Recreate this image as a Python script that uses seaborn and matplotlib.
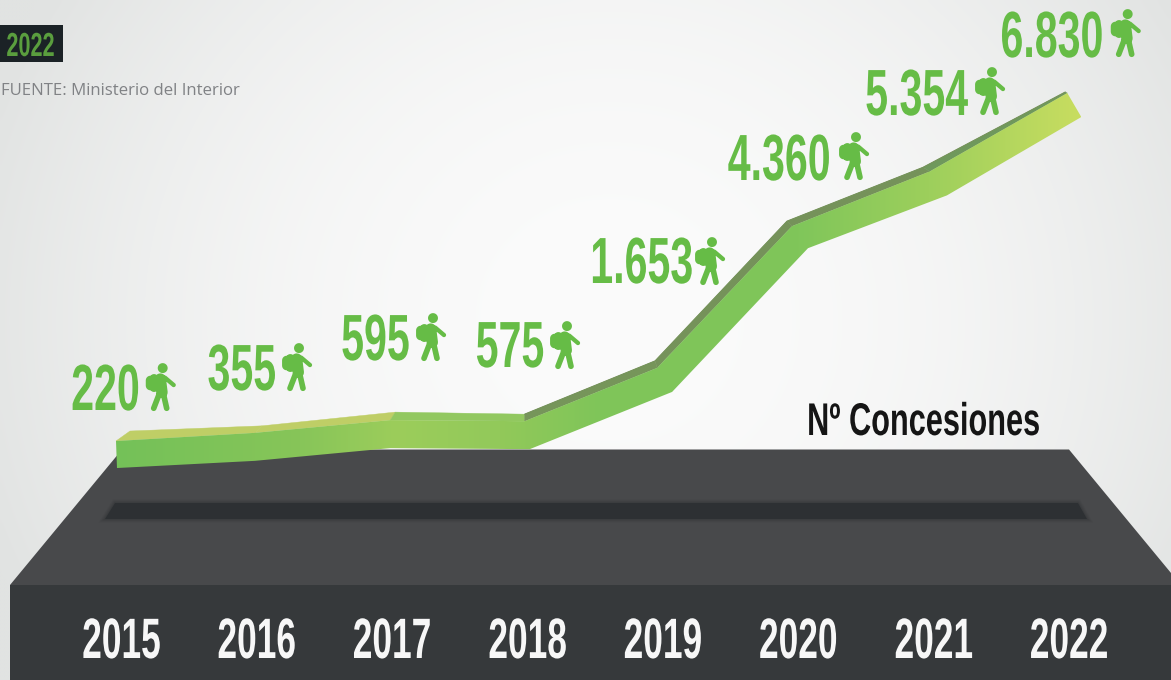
import numpy as np
import matplotlib
matplotlib.use("Agg")
import matplotlib.pyplot as plt
import seaborn as sns
from matplotlib.path import Path
from matplotlib.patheffects import AbstractPathEffect
from matplotlib.transforms import Affine2D
from matplotlib.colors import to_rgb

# ---------- data ----------
YEARS = [2015, 2016, 2017, 2018, 2019, 2020, 2021, 2022]
VALUES = [220, 355, 595, 575, 1653, 4360, 5354, 6830]
SERIES_NAME = "Nº Concesiones"
BADGE = "2022"
SOURCE = "FUENTE: Ministerio del Interior"

# ---------- ribbon styling (pixel offsets of the 3-D ribbon relative to each point) ----------
THICK_FRONT = [27, 28, 28, 28, 24, 22, 24, 24]
THICK_BACK = [10, 7, 8, 7, 7, 5, 4, 1]
DX_BOTTOM = [-4.5, -2, -2, 2, 9, 9.5, 13, 12]
DX_FRONT = [-5.5, -2, -2, -3, -6, -6.5, -4, -2]
DX_BACK = [8.5, 5, 3, -3, -8, -11.5, -11, -4]
BACK_COLORS = ["#bfce66", "#bfce66", "#92c860", "#76955a", "#75925a", "#75925a", "#6f985c"]
GRAD_X = [116, 300, 395, 500, 600, 800, 930, 1081]
GRAD_C = ["#74c158", "#87c559", "#9ccd5b", "#92c95a", "#7fc559", "#80c65a", "#9dcf5c", "#c8dd60"]

# label layout in pixels
LABEL_CX = [105.5, 242, 375.5, 510, 641.5, 779.5, 916.5, 1052]
LABEL_BASE = [410, 390, 360, 367, 283, 180, 115, 57]
ICON_CX = [160.7, 297, 431, 565, 710, 854, 990, 1125.7]
ICON_CY = [387, 367, 337, 345, 261, 156, 91, 33]

GREEN = "#66bc46"
W, H = 1171, 680
PX0, PXS = 121.5, 135.4      # year -> pixel
PY0, PYS = 479.7, 0.0531     # value -> pixel


def X(px):
    return YEARS[0] + (np.asarray(px, float) - PX0) / PXS


def Y(py):
    return (PY0 - np.asarray(py, float)) / PYS


class Squeeze(AbstractPathEffect):
    """Narrow real text horizontally about its centre or left edge (condensed look)."""

    def __init__(self, sx, anchor="center"):
        super().__init__()
        self.sx = sx
        self.anchor = anchor

    def draw_path(self, renderer, gc, tpath, affine, rgbFace=None):
        e = tpath.get_extents()
        xc = (e.x0 + e.x1) / 2 if self.anchor == "center" else e.x0
        t = Affine2D().translate(-xc, 0).scale(self.sx, 1).translate(xc, 0)
        renderer.draw_path(gc, tpath, t + affine, rgbFace)


def poly_circle(cx, cy, r, n=28):
    a = np.linspace(0, 2 * np.pi, n, endpoint=False)
    v = np.c_[cx + r * np.cos(a), cy + r * np.sin(a)]
    return Path(np.r_[v, v[:1]], closed=True)


def capsule(x0, y0, x1, y1, r, n=12):
    a0 = np.arctan2(y1 - y0, x1 - x0)
    arc1 = a0 + np.linspace(-np.pi / 2, np.pi / 2, n)
    arc0 = a0 + np.linspace(np.pi / 2, 3 * np.pi / 2, n)
    v = np.r_[np.c_[x1 + r * np.cos(arc1), y1 + r * np.sin(arc1)],
              np.c_[x0 + r * np.cos(arc0), y0 + r * np.sin(arc0)]]
    return Path(np.r_[v, v[:1]], closed=True)


HIKER = Path.make_compound_path(
    poly_circle(6, 57, 15),
    capsule(-1, 24, 4, -16, 17),
    capsule(-31, 20, -31, 4, 14),
    capsule(-20, 26, -20, -2, 13),
    capsule(13, 28, 39, 6, 6.5),
    capsule(-4, -20, -21, -64, 8.5),
    capsule(8, -20, 18, -64, 8.5),
)

sns.set_theme(style="white")
plt.rcParams["font.family"] = ["Liberation Sans", "DejaVu Sans"]

fig = plt.figure(figsize=(W / 100, H / 100), dpi=100)
ax = fig.add_axes([0, 0, 1, 1])
xlim = (float(X(0)), float(X(W)))
ylim = (float(Y(H)), float(Y(0)))

# background glow
gy, gx = np.mgrid[0:H:170j, 0:W:293j]
r = np.clip(np.hypot((gx - 610) / 660, (gy - 320) / 620), 0, 1)
lo, hi = np.array(to_rgb("#fbfbfb")), np.array(to_rgb("#e1e3e2"))
bg = lo + (hi - lo) * (r ** 2.0)[..., None]
ax.imshow(bg, extent=(*xlim, ylim[0], ylim[1]), origin="upper", aspect="auto", zorder=0,
          interpolation="bicubic")

# platform
ax.fill(X([122, 1069, 1171, 1171, 10]), Y([449.5, 449.5, 573, 585, 585]), color="#48494b", lw=0, zorder=1)
ax.fill(X([10, 1171, 1171, 10]), Y([585, 585, 680, 680]), color="#36393b", lw=0, zorder=1)
slot_x, slot_y = X([115, 1078, 1087, 105]), Y([503, 503, 519, 519])
for lw, al in [(7, 0.10), (5, 0.15), (2.5, 0.25)]:
    ax.fill(slot_x, slot_y, facecolor="none", edgecolor="#2d3033", lw=lw * 0.72, alpha=al, zorder=2)
ax.fill(slot_x, slot_y, color="#2d3033", lw=0, zorder=2)

# ribbon
yrs = np.array(YEARS, float)
vals = np.array(VALUES, float)
x_bot = yrs + np.array(DX_BOTTOM) / PXS
x_frt = yrs + np.array(DX_FRONT) / PXS
x_bck = yrs + np.array(DX_BACK) / PXS
v_frt = vals + np.array(THICK_FRONT) / PYS
v_bck = v_frt + np.array(THICK_BACK) / PYS

for i, c in enumerate(BACK_COLORS):
    ax.fill([x_bck[i], x_bck[i + 1], x_frt[i + 1], x_frt[i]],
            [v_bck[i], v_bck[i + 1], v_frt[i + 1], v_frt[i]],
            color=c, lw=0.3, zorder=3)
sns.lineplot(x=x_bck[3:], y=v_bck[3:], color="#75925a", lw=0.8, sort=False, errorbar=None, ax=ax, zorder=3)

clip = ax.fill(np.r_[x_frt, x_bot[::-1]], np.r_[v_frt, vals[::-1]],
               facecolor="none", edgecolor="none", zorder=4)[0]
px = np.linspace(GRAD_X[0], GRAD_X[-1], 500)
rgb = np.array([to_rgb(c) for c in GRAD_C])
grad = np.stack([np.interp(px, GRAD_X, rgb[:, k]) for k in range(3)], axis=-1)[None, ...]
im = ax.imshow(grad, extent=(float(X(GRAD_X[0])), float(X(GRAD_X[-1])), ylim[0], ylim[1]),
               aspect="auto", zorder=4, interpolation="bilinear")
im.set_clip_path(clip)

# value labels + hikers
for v, cx, base in zip(VALUES, LABEL_CX, LABEL_BASE):
    ax.text(float(X(cx)), float(Y(base)), f"{v:,}".replace(",", "."), color=GREEN, fontsize=47,
            fontweight="bold", ha="center", va="baseline", zorder=6, path_effects=[Squeeze(0.63)])
sns.scatterplot(x=X(ICON_CX), y=Y(ICON_CY), marker=HIKER, s=1200, color=GREEN, linewidth=0,
                edgecolor="none", legend=False, ax=ax, zorder=6)

# year labels
for yr in YEARS:
    ax.text(yr, float(Y(658)), str(yr), color="#f7f7f7", fontsize=41, fontweight="bold",
            ha="center", va="baseline", zorder=6, path_effects=[Squeeze(0.62)])

ax.text(float(X(923.5)), float(Y(435)), SERIES_NAME, color="#151515", fontsize=33, fontweight="bold",
        ha="center", va="baseline", zorder=6, path_effects=[Squeeze(0.67)])

# badge and source
ax.fill(X([-2, 63, 63, -2]), Y([25, 25, 62, 62]), color="#1b2226", lw=0, zorder=5)
ax.text(float(X(6)), float(Y(56)), BADGE, color="#5a9e3e", fontsize=24, fontweight="bold",
        ha="left", va="baseline", zorder=6, path_effects=[Squeeze(0.65, anchor="left")])
ax.text(float(X(1)), float(Y(95)), SOURCE, color="#808285", fontsize=12.1, ha="left", va="baseline",
        family=["Open Sans", "DejaVu Sans"], zorder=6)

ax.set_xlim(*xlim)
ax.set_ylim(*ylim)
ax.axis("off")
fig.savefig("out.png", dpi=100)
